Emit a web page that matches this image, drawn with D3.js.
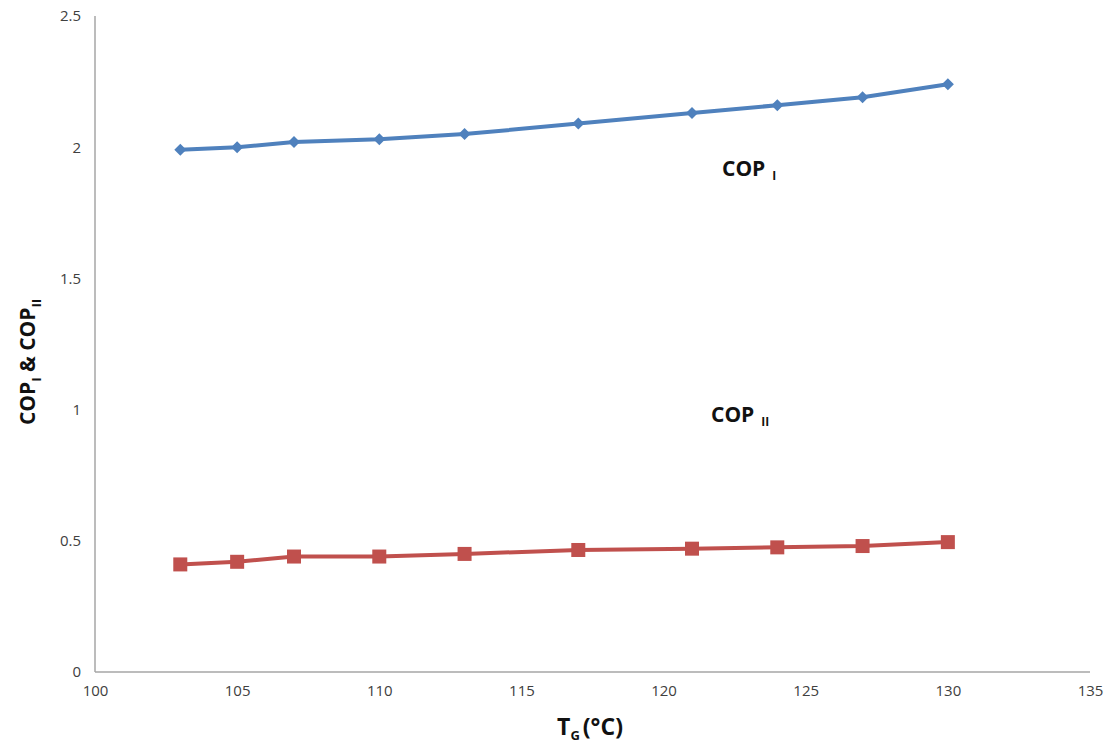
<!DOCTYPE html>
<html><head><meta charset="utf-8">
<script src="https://cdn.jsdelivr.net/npm/d3@7"></script>
<style>body{margin:0;background:#fff}</style>
</head><body>
<svg id="c" width="1104" height="748"></svg>
<script>
const tg = [103, 105, 107, 110, 113, 117, 121, 124, 127, 130];
const copI = [1.99, 2.00, 2.02, 2.03, 2.05, 2.09, 2.13, 2.16, 2.19, 2.24];
const copII = [0.41, 0.42, 0.44, 0.44, 0.45, 0.465, 0.47, 0.475, 0.48, 0.495];
const xTicks = [100, 105, 110, 115, 120, 125, 130, 135];
const yTicks = [0, 0.5, 1, 1.5, 2, 2.5];

const svg = d3.select("#c");
const font = "'Open Sans', 'Liberation Sans', sans-serif";
const x = d3.scaleLinear().domain([100, 135]).range([95, 1090]);
const y = d3.scaleLinear().domain([0, 2.5]).range([672, 16]);

// axes
const xa = svg.append("g").attr("transform", "translate(0,672)")
  .call(d3.axisBottom(x).tickValues(xTicks).tickSize(0).tickPadding(13).tickFormat(d3.format("d")));
xa.select(".domain").attr("stroke", "#a6a6a6").attr("stroke-width", 1.5).attr("d", "M95,0H1090");
xa.selectAll("text").attr("font-family", font).attr("font-size", 15).attr("fill", "#404040");

const ya = svg.append("g").attr("transform", "translate(95,0)")
  .call(d3.axisLeft(y).tickValues(yTicks).tickSize(0).tickPadding(14).tickFormat(d => String(d)));
ya.select(".domain").attr("stroke", "#a6a6a6").attr("stroke-width", 1.5).attr("d", "M0,672V16");
ya.selectAll("text").attr("font-family", font).attr("font-size", 15).attr("fill", "#404040");

const line = d3.line().x((d, i) => x(tg[i])).y(d => y(d));

// COP I
svg.append("path").datum(copI).attr("d", line).attr("fill", "none")
  .attr("stroke", "#4F81BD").attr("stroke-width", 4);
svg.selectAll(".pi").data(copI).enter().append("path")
  .attr("transform", (d, i) => `translate(${x(tg[i])},${y(d)}) rotate(45)`)
  .attr("d", d3.symbol().type(d3.symbolSquare).size(72))
  .attr("fill", "#4F81BD");

// COP II
svg.append("path").datum(copII).attr("d", line).attr("fill", "none")
  .attr("stroke", "#C0504D").attr("stroke-width", 4);
svg.selectAll(".pii").data(copII).enter().append("rect")
  .attr("x", (d, i) => x(tg[i]) - 7).attr("y", d => y(d) - 7)
  .attr("width", 14).attr("height", 14).attr("fill", "#C0504D");

// series labels
function lab(xp, yp, sub) {
  const t = svg.append("text").attr("x", xp).attr("y", yp)
    .attr("font-family", font).attr("font-weight", "bold").attr("font-size", 21).attr("fill", "#111");
  t.append("tspan").text("COP");
  t.append("tspan").attr("dx", 7).attr("dy", 4).attr("font-size", 12).text(sub);
}
lab(722, 176, "I");
lab(711, 422, "II");

// axis titles
const yt = svg.append("text").attr("transform", "translate(35,362) rotate(-90)")
  .attr("text-anchor", "middle").attr("font-family", font).attr("font-weight", "bold")
  .attr("font-size", 21).attr("fill", "#111");
yt.append("tspan").text("COP");
yt.append("tspan").attr("dy", 6).attr("font-size", 13).text("I");
yt.append("tspan").attr("dy", -6).text(" & COP");
yt.append("tspan").attr("dy", 6).attr("font-size", 13).text("II");

const xt = svg.append("text").attr("x", 590).attr("y", 735)
  .attr("text-anchor", "middle").attr("font-family", font).attr("font-weight", "bold")
  .attr("font-size", 23).attr("fill", "#111");
xt.append("tspan").text("T");
xt.append("tspan").attr("dy", 5).attr("font-size", 13).text("G");
xt.append("tspan").attr("dy", -5).attr("dx", 3).text("(°C)");
</script>
</body></html>
